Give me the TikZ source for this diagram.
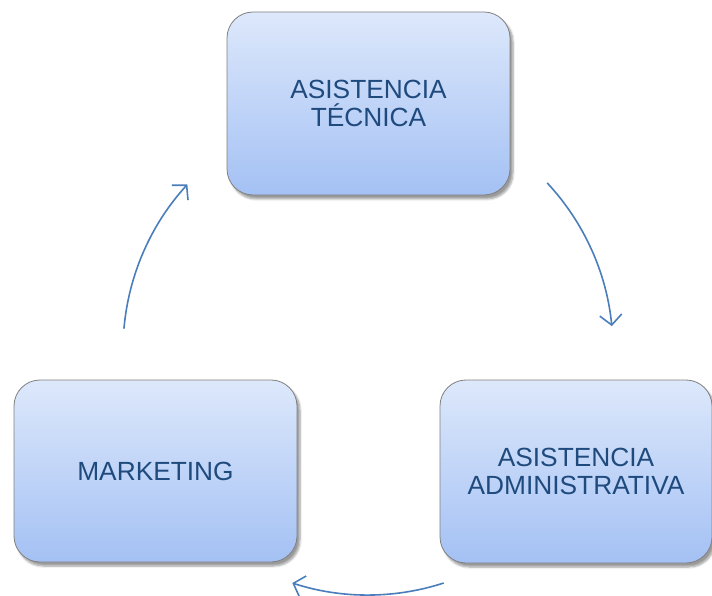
\documentclass[tikz,border=0pt]{standalone}
\usepackage{fontspec}
\setmainfont{Liberation Sans}
\usetikzlibrary{arrows.meta,shadows,shadows.blur}
\definecolor{txtblue}{HTML}{1F4A7E}
\definecolor{boxtop}{HTML}{DDE8FB}
\definecolor{boxbot}{HTML}{A4C1F4}
\definecolor{boxline}{HTML}{808080}
\definecolor{arrowblue}{HTML}{4A7EBB}
\tikzset{
  stagebox/.style={draw=boxline, line width=0.8pt, rounded corners=26pt,
    top color=boxtop, bottom color=boxbot,
    blur shadow={shadow xshift=3pt, shadow yshift=-4pt, shadow blur steps=6, shadow opacity=40},
    text=txtblue, align=center, inner sep=0pt,
    font=\fontsize{26.3}{28}\selectfont},
  cyclearrow/.style={draw=arrowblue, line width=1.6pt,
    -{Straight Barb[length=10pt, width=22pt, line width=1.6pt]}}
}
\begin{document}
\begin{tikzpicture}[x=1pt,y=1pt]
\useasboundingbox (0,0) rectangle (712,595);
\node[stagebox, minimum width=283pt, minimum height=183pt] (tec) at (368.5,491.5) {ASISTENCIA\\TÉCNICA};
\node[stagebox, minimum width=272pt, minimum height=183pt] (adm) at (576,123.5) {ASISTENCIA\\ADMINISTRATIVA};
\node[stagebox, minimum width=283pt, minimum height=182pt] (mkt) at (155.5,124) {MARKETING};
\coordinate (ctr) at (368,245);
\draw[cyclearrow] ([shift={(175:245)}]ctr) arc[start angle=175, end angle=137.5, radius=245];
\draw[cyclearrow] ([shift={(43:245)}]ctr) arc[start angle=43, end angle=5.6, radius=245];
\draw[cyclearrow] ([shift={(-72:245)}]ctr) arc[start angle=-72, end angle=-108, radius=245];
\end{tikzpicture}
\end{document}
